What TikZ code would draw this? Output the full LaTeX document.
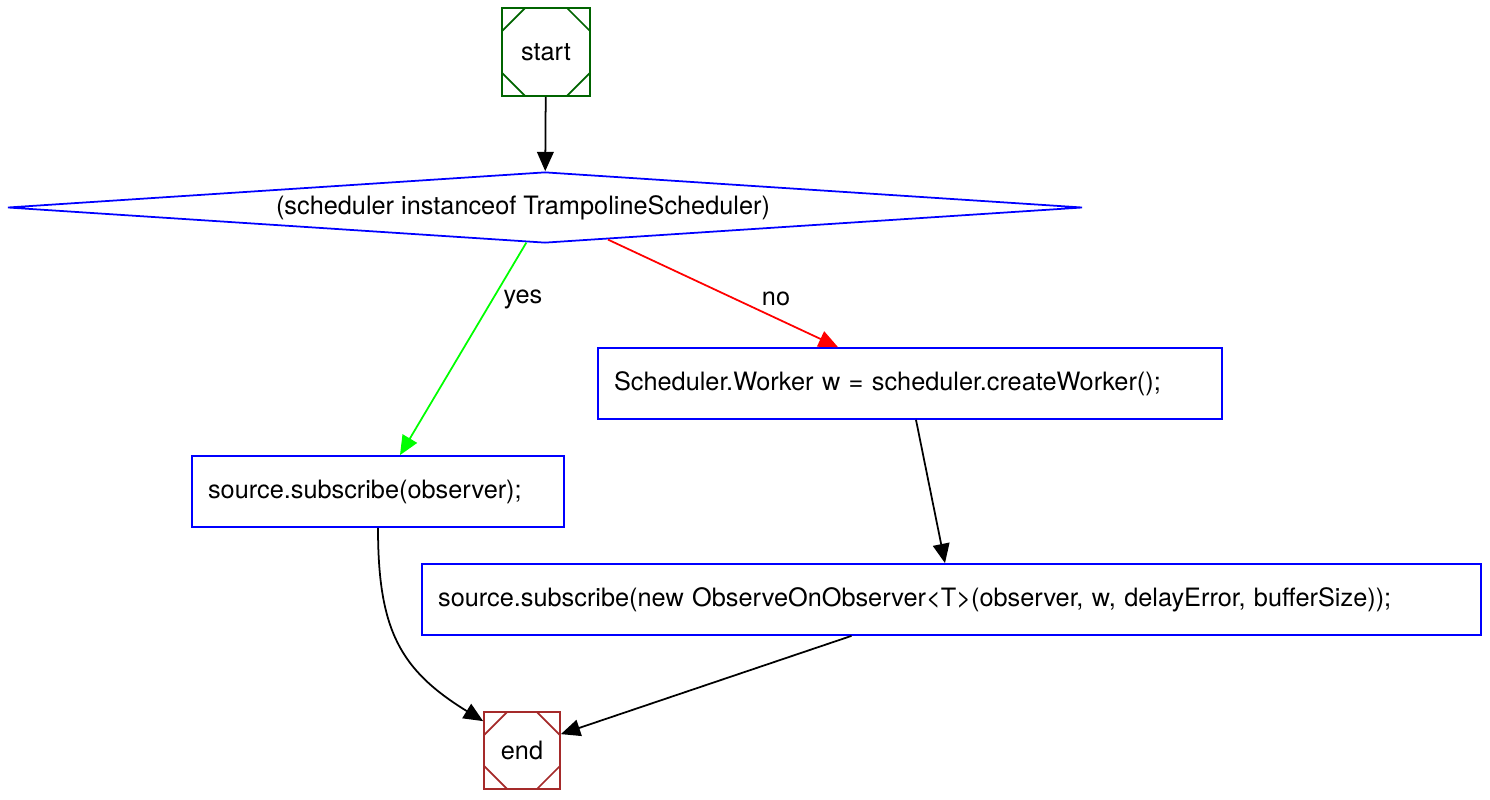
\documentclass[tikz,border=0pt]{standalone}
\usepackage{fontspec}
\setmainfont{TeX Gyre Heros}
\usetikzlibrary{shapes.geometric,arrows.meta}
\definecolor{startgreen}{RGB}{0,100,0}
\definecolor{endbrown}{RGB}{165,42,42}
\definecolor{yesgreen}{RGB}{0,255,0}
\newcommand{\msqcut}{0.46cm}
\begin{document}
\begin{tikzpicture}[x=0.02cm, y=-0.02cm, >={Triangle[length=11pt,width=9.5pt]},
    every node/.style={font=\fontsize{14.4}{17}\selectfont},
    line/.style={line width=1pt},
    msq/.style={draw=#1, line, rectangle, inner sep=0pt,
      path picture={
        \draw[#1, line] ([yshift=-\msqcut]path picture bounding box.north west) -- ([xshift=\msqcut]path picture bounding box.north west);
        \draw[#1, line] ([yshift=-\msqcut]path picture bounding box.north east) -- ([xshift=-\msqcut]path picture bounding box.north east);
        \draw[#1, line] ([yshift=\msqcut]path picture bounding box.south west) -- ([xshift=\msqcut]path picture bounding box.south west);
        \draw[#1, line] ([yshift=\msqcut]path picture bounding box.south east) -- ([xshift=-\msqcut]path picture bounding box.south east);
      }},
    stmt/.style={draw=blue, line, rectangle, inner xsep=0.32cm, inner ysep=0pt,
      minimum height=1.42cm, align=left}]
  \useasboundingbox (0, 0) rectangle (1490, 800);
  \node[msq=startgreen, minimum width=1.76cm, minimum height=1.76cm] (start) at (546, 52) {start};
  \node[draw=blue, line, diamond, shape aspect=15, inner sep=0pt,
    minimum width=21.5cm, minimum height=1.42cm] (cond) at (545, 207.5)
    {\hspace*{-0.88cm}(scheduler instanceof TrampolineScheduler)};
  \node[stmt, text width=11.84cm] (worker) at (910, 383.5)
    {Scheduler.Worker w = scheduler.createWorker();};
  \node[stmt, text width=6.8cm] (direct) at (378, 491.5)
    {source.subscribe(observer);};
  \node[stmt, text width=20.54cm] (observeon) at (951.5, 599.5)
    {source.subscribe(new ObserveOnObserver<T>(observer, w, delayError, bufferSize));};
  \node[msq=endbrown, minimum width=1.52cm, minimum height=1.54cm] (end) at (522, 750.5) {end};
  \node (yes) at (523, 299) {yes};
  \node (no) at (776, 299) {no};
  \draw[->, line] (start) -- (cond);
  \draw[->, line, yesgreen] (cond.-118) -- ([xshift=0.44cm]direct.north);
  \draw[->, line, red] (cond.-27) -- ([xshift=-1.44cm]worker.north);
  \draw[->, line] ([xshift=0.12cm]worker.south) -- ([xshift=-0.13cm]observeon.north);
  \draw[->, line] (direct.south) .. controls (378, 630) and (400, 670) .. ([yshift=-0.2cm]end.north west);
  \draw[->, line] ([xshift=-2cm]observeon.south) -- ([yshift=-0.46cm]end.north east);
\end{tikzpicture}
\end{document}
